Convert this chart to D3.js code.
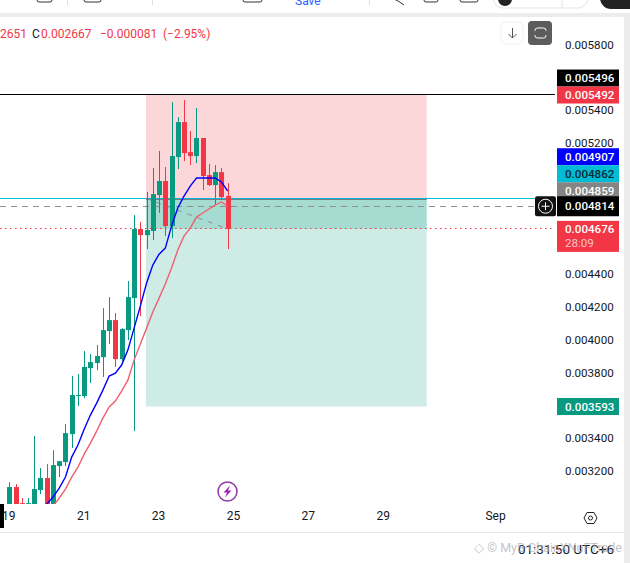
<!DOCTYPE html>
<html>
<head>
<meta charset="utf-8">
<script src="https://d3js.org/d3.v7.min.js"></script>
<style>
  html, body { margin: 0; padding: 0; background: #fff; overflow: hidden; }
  text { font-family: Roboto, sans-serif; }
</style>
</head>
<body>
<div id="chart"></div>
<script>
/* 4h candles */
var opens  = [0.002962,0.003102,0.003004,0.002986,0.002962,0.003084,0.003157,0.002974,0.003230,0.003254,0.003425,0.003657,0.003657,0.003827,0.003858,0.003894,0.004053,0.004120,0.003882,0.004059,0.004254,0.004675,0.004638,0.004663,0.004882,0.004968,0.004693,0.005114,0.005327,0.005144,0.005120,0.005230,0.005004,0.004943,0.005022,0.004876];
var highs  = [0.003132,0.003120,0.003035,0.003035,0.003413,0.003218,0.003242,0.003327,0.003260,0.003486,0.003779,0.003791,0.003931,0.003913,0.003968,0.004193,0.004260,0.004163,0.004071,0.004358,0.004760,0.004718,0.004901,0.005047,0.005151,0.005053,0.005449,0.005358,0.005461,0.005272,0.005413,0.005230,0.005071,0.005065,0.005047,0.004955];
var lows   = [0.002962,0.002962,0.002974,0.002968,0.002949,0.003059,0.002949,0.002962,0.003163,0.003230,0.003340,0.003596,0.003644,0.003736,0.003815,0.003773,0.003974,0.003834,0.003852,0.003998,0.003443,0.004144,0.004553,0.004608,0.004773,0.004632,0.004620,0.005041,0.005090,0.005065,0.005077,0.004913,0.004937,0.004821,0.004852,0.004553];
var closes = [0.003102,0.002974,0.002986,0.003004,0.003090,0.003157,0.002974,0.003236,0.003260,0.003431,0.003663,0.003663,0.003834,0.003864,0.003901,0.004059,0.004120,0.003882,0.004065,0.004260,0.004675,0.004638,0.004669,0.004888,0.004968,0.004693,0.005120,0.005327,0.005138,0.005120,0.005230,0.004998,0.004943,0.005022,0.004870,0.004676];

/* moving averages, first value belongs to candle 5 (blue) and candle 7 (red) */
var blueStart = 5;
var blueLine = [0.002986,0.002998,0.003041,0.003096,0.003163,0.003285,0.003358,0.003455,0.003541,0.003614,0.003693,0.003779,0.003797,0.003846,0.003937,0.004071,0.004205,0.004346,0.004455,0.004522,0.004559,0.004693,0.004803,0.004876,0.004937,0.004986,0.004986,0.004986,0.004986,0.004962,0.004907];
var redStart = 7;
var redLine = [0.002986,0.003035,0.003090,0.003163,0.003224,0.003303,0.003370,0.003443,0.003522,0.003590,0.003626,0.003687,0.003754,0.003876,0.003974,0.004071,0.004169,0.004254,0.004340,0.004437,0.004547,0.004632,0.004681,0.004748,0.004773,0.004797,0.004821,0.004840,0.004814];

var priceTicks = [0.0058,0.0054,0.0052,0.0044,0.0042,0.004,0.0038,0.0034,0.0032];
var timeTicks = [0,12,24,36,48,60,78];
var timeLabels = ["19","21","23","25","27","29","Sep"];

/* short position tool */
var posStart = 21.9, posEnd = 66.9;
var stopPrice = 0.005496, entryPrice = 0.004862, targetPrice = 0.003593, lastPrice = 0.004676, emaPrice = 0.004814;

var tagValues = ["0.005496","0.005492","0.004907","0.004862","0.004859","0.004814","0.004676","0.003593"];
var tagFills  = ["#000000","#f23645","#0000ff","#00bcd4","#858585","#000000","#f23645","#089981"];
var tagInks   = ["#fff","#fff","#fff","#0b2a33","#fff","#fff","#fff","#fff"];

var GREEN = "#089981", RED = "#f23645";
var W = 630, H = 563;
var paneRight = 555, paneTop = 17, paneBottom = 504;

var svg = d3.select("#chart").append("svg").attr("width", W).attr("height", H).style("display", "block");

var x = d3.scaleLinear().domain([0, 78]).range([9.3, 496]);
var y = d3.scaleLinear().domain([0.0032, 0.0058]).range([471, 44.5]);

/* snap a level to the pixel grid so that thin lines stay sharp */
function crisp(v) { return Math.floor(v) + 0.5; }

/* window chrome that is cut off at the top of the screenshot */
svg.append("rect").attr("x", 0).attr("y", 13).attr("width", W).attr("height", 4).attr("fill", "#ececec");
svg.append("rect").attr("x", 624).attr("y", 13).attr("width", 6).attr("height", H).attr("fill", "#ececec");
[67.5, 152.5, 369.5].forEach(function(d) {
  svg.append("line").attr("x1", d).attr("x2", d).attr("y1", 0).attr("y2", 5).attr("stroke", "#e0e0e0");
});
[[37, 15], [84, 17], [243, 19], [424, 14], [460, 18]].forEach(function(d) {
  svg.append("rect").attr("x", d[0]).attr("y", -8).attr("width", d[1]).attr("height", 10).attr("rx", 2)
    .attr("fill", "none").attr("stroke", "#333");
});
svg.append("path").attr("d", "M388 -4 L398 1 L404 5").attr("fill", "none").attr("stroke", "#333");
svg.append("text").attr("x", 295).attr("y", 5).attr("font-size", 12).attr("fill", "#2962ff").text("Save");
svg.append("rect").attr("x", 493).attr("y", -12).attr("width", 95).attr("height", 20).attr("rx", 10)
  .attr("fill", "#fff").attr("stroke", "#e5e5e5");
svg.append("circle").attr("cx", 505).attr("cy", -1).attr("r", 7).attr("fill", "#222");
svg.append("line").attr("x1", 562).attr("x2", 562).attr("y1", 0).attr("y2", 8).attr("stroke", "#e5e5e5");
svg.append("rect").attr("x", 600).attr("y", -14).attr("width", 60).attr("height", 23).attr("rx", 11).attr("fill", "#222");

var clip = svg.append("defs").append("clipPath").attr("id", "pane");
clip.append("rect").attr("x", 0).attr("y", paneTop).attr("width", paneRight).attr("height", paneBottom - paneTop);
var pane = svg.append("g").attr("clip-path", "url(#pane)");

/* position zones */
pane.append("rect").attr("x", x(posStart)).attr("width", x(posEnd) - x(posStart))
  .attr("y", y(stopPrice)).attr("height", y(entryPrice) - y(stopPrice))
  .attr("fill", RED).attr("fill-opacity", 0.2);
pane.append("rect").attr("x", x(posStart)).attr("width", x(posEnd) - x(posStart))
  .attr("y", y(entryPrice)).attr("height", y(targetPrice) - y(entryPrice))
  .attr("fill", GREEN).attr("fill-opacity", 0.2);
pane.append("rect").attr("x", x(posStart)).attr("width", x(posEnd) - x(posStart))
  .attr("y", y(entryPrice)).attr("height", y(lastPrice) - y(entryPrice))
  .attr("fill", GREEN).attr("fill-opacity", 0.2);

/* horizontal levels */
pane.append("line").attr("x1", 0).attr("x2", paneRight).attr("y1", crisp(y(stopPrice))).attr("y2", crisp(y(stopPrice)))
  .attr("stroke", "#000").attr("stroke-width", 1);
pane.append("line").attr("x1", 0).attr("x2", 535).attr("y1", crisp(y(entryPrice))).attr("y2", crisp(y(entryPrice)))
  .attr("stroke", "#00bcd4").attr("stroke-width", 1);
pane.append("line").attr("x1", x(posStart)).attr("x2", x(posEnd)).attr("y1", crisp(y(entryPrice)) + 1).attr("y2", crisp(y(entryPrice)) + 1)
  .attr("stroke", "#787b86").attr("stroke-width", 1);
pane.append("line").attr("x1", 0).attr("x2", 535).attr("y1", crisp(y(emaPrice))).attr("y2", crisp(y(emaPrice)))
  .attr("stroke", "#8f8f8f").attr("stroke-dasharray", "6 5");
pane.append("line").attr("x1", 0).attr("x2", paneRight).attr("y1", crisp(y(lastPrice))).attr("y2", crisp(y(lastPrice)))
  .attr("stroke", RED).attr("stroke-dasharray", "1.5 3.5");
pane.append("line").attr("x1", x(posStart)).attr("x2", x(35)).attr("y1", y(entryPrice)).attr("y2", y(lastPrice))
  .attr("stroke", "#8a8f99").attr("stroke-dasharray", "5 6");

/* candles */
var candles = opens.map(function(d, i) {
  return {i: i, o: d, h: highs[i], l: lows[i], c: closes[i]};
});
var bodyWidth = 5;
pane.selectAll("line.wick").data(candles).enter().append("line").attr("class", "wick")
  .attr("x1", function(d) { return Math.round(x(d.i)) + 0.5; })
  .attr("x2", function(d) { return Math.round(x(d.i)) + 0.5; })
  .attr("y1", function(d) { return y(d.h); })
  .attr("y2", function(d) { return y(d.l); })
  .attr("stroke", function(d) { return d.c >= d.o ? GREEN : RED; });
pane.selectAll("rect.body").data(candles).enter().append("rect").attr("class", "body")
  .attr("x", function(d) { return Math.round(x(d.i)) - 2; })
  .attr("width", bodyWidth)
  .attr("y", function(d) { return y(Math.max(d.o, d.c)); })
  .attr("height", function(d) { return Math.max(1, Math.abs(y(d.o) - y(d.c))); })
  .attr("fill", function(d) { return d.c >= d.o ? GREEN : RED; });

/* moving averages */
var blueGen = d3.line().x(function(d, i) { return x(i + blueStart); }).y(function(d) { return y(d); });
var redGen = d3.line().x(function(d, i) { return x(i + redStart); }).y(function(d) { return y(d); });
pane.append("path").attr("d", blueGen(blueLine)).attr("fill", "none").attr("stroke", "#0000ff").attr("stroke-width", 1.4);
pane.append("path").attr("d", redGen(redLine)).attr("fill", "none").attr("stroke", "#f0606e").attr("stroke-width", 1.4);

/* header legend */
var legend = svg.append("text").attr("y", 38).attr("font-size", 12);
legend.append("tspan").attr("x", 0).attr("fill", RED).text("2651");
legend.append("tspan").attr("x", 32).attr("fill", "#131722").text("C");
legend.append("tspan").attr("x", 41).attr("fill", RED).text("0.002667");
legend.append("tspan").attr("x", 100).attr("fill", RED).text("\u22120.000081");
legend.append("tspan").attr("x", 163).attr("fill", RED).text("(\u22122.95%)");

/* chart buttons */
svg.append("rect").attr("x", 501).attr("y", 22).attr("width", 22).attr("height", 22).attr("rx", 4)
  .attr("fill", "#fff").attr("stroke", "#e8e8e8").attr("stroke-dasharray", "2 1");
svg.append("path").attr("d", "M512.5 28 V38 M508.5 34 L512.5 38 L516.5 34").attr("fill", "none").attr("stroke", "#555");
svg.append("rect").attr("x", 528).attr("y", 21).attr("width", 24).attr("height", 24).attr("rx", 4).attr("fill", "#5c5c5c");
svg.append("rect").attr("x", 535).attr("y", 28).attr("width", 11).attr("height", 10).attr("rx", 2.5)
  .attr("fill", "none").attr("stroke", "#fff");
svg.append("rect").attr("x", 532).attr("y", 31).attr("width", 17).attr("height", 4).attr("fill", "#5c5c5c");

/* price axis */
var yAxis = d3.axisRight(y).tickValues(priceTicks).tickSize(0).tickPadding(0)
  .tickFormat(d3.format(".6f"));
var yAxisG = svg.append("g").attr("transform", "translate(565,0)").call(yAxis);
yAxisG.select(".domain").remove();
yAxisG.selectAll("text").attr("font-size", 11.6).attr("fill", "#131722").style("font-family", "Roboto, sans-serif");

/* price tags, stacked upward so that they do not overlap */
var tagLayout = [];
var prevTop = Infinity;
var tagOrder = d3.range(tagValues.length).reverse();
tagOrder.forEach(function(k) {
  var py = y(+tagValues[k]);
  var box = {k: k, h: 17, top: py - 8.5};
  if (tagValues[k] === "0.004676") { box.h = 31; box.top = py - 8; }
  if (tagValues[k] === "0.004814") { box.h = 20; box.top = py - 10; }
  if (box.top + box.h > prevTop) {
    box.top = prevTop - box.h;
    if (tagValues[k] === "0.004859") box.top += 3;
  }
  prevTop = box.top;
  tagLayout.push(box);
});
var tags = svg.append("g");
/* blue, cyan and grey have to lie under the black tag below them */
tagLayout.slice().sort(function(a, b) { return a.top - b.top; }).forEach(function(b) {
  tags.append("rect").attr("x", 557).attr("y", b.top).attr("width", 62).attr("height", b.h).attr("fill", tagFills[b.k]);
  tags.append("text").attr("x", 565).attr("y", b.top + (b.h === 20 ? 10 : 8.5)).attr("dy", "0.35em")
    .attr("font-size", 11.6).attr("font-weight", 500).attr("fill", tagInks[b.k]).text(tagValues[b.k]);
  if (tagValues[b.k] === "0.004676") {
    tags.append("text").attr("x", 565).attr("y", b.top + 22).attr("dy", "0.35em")
      .attr("font-size", 11.6).attr("fill", "#fbc1c6").text("28:09");
  }
});

/* add-alert button on the last ema level */
svg.append("rect").attr("x", 535).attr("y", y(emaPrice) - 10).attr("width", 21).attr("height", 20).attr("rx", 2).attr("fill", "#111");
svg.append("circle").attr("cx", 545.5).attr("cy", y(emaPrice)).attr("r", 7).attr("fill", "none").attr("stroke", "#fff");
svg.append("path").attr("d", "M541.5 " + y(emaPrice) + " h8 M545.5 " + (y(emaPrice) - 4) + " v8").attr("stroke", "#fff");

/* time axis */
var xAxis = d3.axisBottom(x).tickValues(timeTicks).tickSize(0).tickPadding(0)
  .tickFormat(function(d, i) { return timeLabels[i]; });
var xAxisG = svg.append("g").attr("transform", "translate(-1,511)").call(xAxis);
xAxisG.select(".domain").remove();
xAxisG.selectAll("text").attr("font-size", 12).attr("fill", "#131722").style("font-family", "Roboto, sans-serif");
svg.append("rect").attr("x", 0).attr("y", 504).attr("width", 4).attr("height", 24).attr("fill", "#000");
svg.append("line").attr("x1", 0).attr("x2", 624).attr("y1", 532.5).attr("y2", 532.5).attr("stroke", "#e6e6e6");

/* settings hexagon */
svg.append("path").attr("d", "M584 518 L587 512.5 L594 512.5 L597 518 L594 523.5 L587 523.5 Z").attr("fill", "none").attr("stroke", "#222");
svg.append("circle").attr("cx", 590.5).attr("cy", 518).attr("r", 2).attr("fill", "none").attr("stroke", "#222");

/* lightning marker */
svg.append("circle").attr("cx", 227.5).attr("cy", 491.5).attr("r", 9.5).attr("fill", "#fff").attr("stroke", "#8e3aa8").attr("stroke-width", 1.5);
svg.append("path").attr("d", "M230 485.5 L223.5 492.5 L227 492.5 L225 497.5 L231.5 490.5 L228 490.5 Z").attr("fill", "#9c27b0");

/* clock and screenshot watermark */
svg.append("text").attr("x", 614).attr("y", 554).attr("text-anchor", "end").attr("font-size", 13.5).attr("fill", "#131722").text("01:31:50 UTC+6");
svg.append("text").attr("x", 622).attr("y", 552).attr("text-anchor", "end").attr("font-size", 12.5).attr("fill", "#aaa").attr("fill-opacity", 0.7).text("\u25C7 \u00A9 MyB\u00B7ChainXNuFTrade");
</script>
</body>
</html>
